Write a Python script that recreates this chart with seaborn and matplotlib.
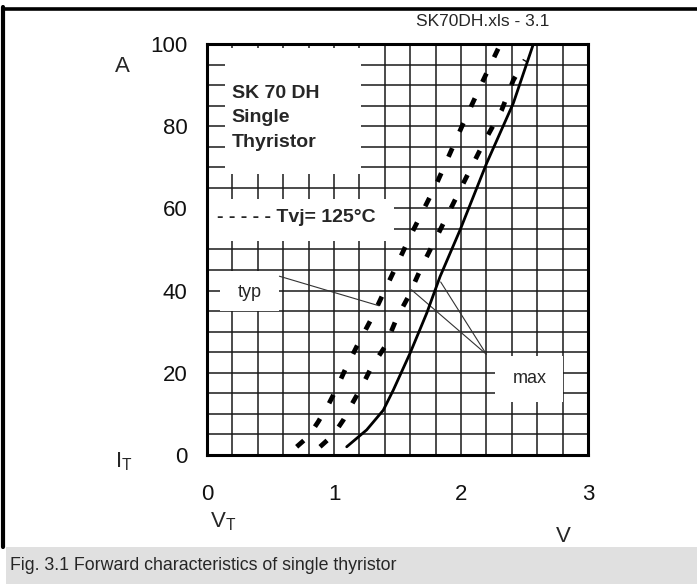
import numpy as np
import pandas as pd
import matplotlib
matplotlib.use('Agg')
import matplotlib.pyplot as plt
from matplotlib.patches import Rectangle
import seaborn as sns

# forward characteristics (V, A)
typ_125_v = [0.706, 0.798, 0.876, 0.955, 1.008, 1.087, 1.179, 1.297, 1.388, 1.506, 1.598, 1.809, 2.018, 2.163, 2.307]
typ_125_i = [2.0, 4.5, 8.1, 12.2, 15.4, 20.7, 26.4, 33.3, 39.3, 47.0, 53.1, 66.1, 80.7, 90.4, 99.8]

max_125_v = [0.89, 0.994, 1.073, 1.152, 1.218, 1.297, 1.402, 1.494, 1.585, 1.69, 1.809, 2.018, 2.176, 2.32, 2.412, 2.504]
max_125_i = [2.0, 4.9, 8.5, 13.0, 16.6, 21.5, 26.4, 33.3, 38.5, 45.8, 53.1, 66.1, 75.8, 83.9, 91.2, 96.1]

max_25_v = [1.10, 1.257, 1.388, 1.467, 1.598, 1.73, 1.835, 1.992, 2.202, 2.412, 2.57]
max_25_i = [2.0, 6.1, 10.9, 15.8, 24.7, 34.5, 43.4, 54.7, 71.0, 85.6, 100.0]

x_ticks = [0, 1, 2, 3]
y_ticks = [0, 20, 40, 60, 80, 100]

sns.set_theme(style='white')
plt.rcParams['font.family'] = ['Liberation Sans', 'DejaVu Sans']
plt.rcParams['mathtext.default'] = 'regular'

fig = plt.figure(figsize=(6.97, 5.84), dpi=100)
ax = fig.add_axes([207/697, 1-455/584, 381/697, 411/584])

df = pd.concat([
    pd.DataFrame({'V': typ_125_v, 'I': typ_125_i, 'curve': 'typ 125'}),
    pd.DataFrame({'V': max_125_v, 'I': max_125_i, 'curve': 'max 125'}),
    pd.DataFrame({'V': max_25_v, 'I': max_25_i, 'curve': 'max 25'}),
])

for name in ['typ 125', 'max 125']:
    sns.lineplot(data=df[df.curve == name], x='V', y='I', ax=ax, color='black',
                 linewidth=3.4, estimator=None, sort=False, zorder=5,
                 dashes=False, legend=False)
    ax.lines[-1].set_dashes((2.0, 3.8))
    ax.lines[-1].set_dash_capstyle('butt')
sns.lineplot(data=df[df.curve == 'max 25'], x='V', y='I', ax=ax, color='black',
             linewidth=2.0, estimator=None, sort=False, zorder=5, legend=False)

ax.set_xlim(0, 3)
ax.set_ylim(0, 100)
ax.set_xticks(x_ticks)
ax.set_yticks(y_ticks)
ax.set_xticks(np.arange(0, 3.01, 0.2), minor=True)
ax.set_yticks(np.arange(0, 100.1, 5), minor=True)
ax.grid(True, which='both', color='#1a1a1a', linewidth=1.1)
ax.set_axisbelow(True)
ax.tick_params(which='both', length=0, labelsize=16, colors='#111111')
ax.tick_params(axis='x', pad=21)
ax.tick_params(axis='y', pad=14)
ax.set_xlabel('')
ax.set_ylabel('')
for sp in ax.spines.values():
    sp.set_color('black')
    sp.set_linewidth(2.2)
    sp.set_zorder(6)

# white label boxes masking the grid
boxes = [(0.14, 68.4, 1.07, 30.6), (0.0, 52.0, 1.47, 10.3),
         (0.10, 35.0, 0.47, 9.8), (2.27, 12.9, 0.53, 11.2)]
for bx, by, bw, bh in boxes:
    ax.add_patch(Rectangle((bx, by), bw, bh, facecolor='white', edgecolor='none', zorder=3))

ax.text(0.195, 82, 'SK 70 DH\nSingle\nThyristor', fontsize=14, fontweight='bold',
        va='center', ha='left', linespacing=1.6, zorder=4)
ax.text(0.08, 57.8, '- - - - - Tvj= 125°C', fontsize=14, fontweight='bold',
        va='center', ha='left', zorder=4)
ax.text(0.337, 39.6, 'typ', fontsize=13, va='center', ha='center', zorder=4)
ax.text(2.545, 18.5, 'max', fontsize=13, va='center', ha='center', zorder=4)

# leader lines
ax.plot([0.57, 1.355], [43.5, 36.3], color='#333333', linewidth=0.8, zorder=4)
ax.plot([2.20, 1.61], [24.5, 40.2], color='#333333', linewidth=0.8, zorder=4)
ax.plot([2.20, 1.84], [24.5, 42.1], color='#333333', linewidth=0.8, zorder=4)

# axis labels
fig.text(122/697, 1-66/584, 'A', fontsize=16, ha='center', va='center')
fig.text(124/697, 1-462/584, '$I_T$', fontsize=16, ha='center', va='center')
fig.text(223/697, 1-522/584, '$V_T$', fontsize=16, ha='center', va='center')
fig.text(563/697, 1-537/584, 'V', fontsize=16, ha='center', va='center')
fig.text(483/697, 1-21/584, 'SK70DH.xls - 3.1', fontsize=12.5, ha='center', va='center')

# frame and caption bar
fig.patches.append(Rectangle((6/697, 0), 1, 37/584, transform=fig.transFigure,
                             facecolor='#e0e0e0', edgecolor='none', zorder=0))
fig.add_artist(plt.Line2D([3/697, 1], [1-8.5/584, 1-8.5/584], color='black', linewidth=2.6))
fig.add_artist(plt.Line2D([3/697, 3/697], [37/584, 1-7/584], color='black', linewidth=3.0))
fig.text(10/697, 1-565/584, 'Fig. 3.1 Forward characteristics of single thyristor',
         fontsize=12.8, ha='left', va='center')

fig.savefig('out.png', dpi=100)
